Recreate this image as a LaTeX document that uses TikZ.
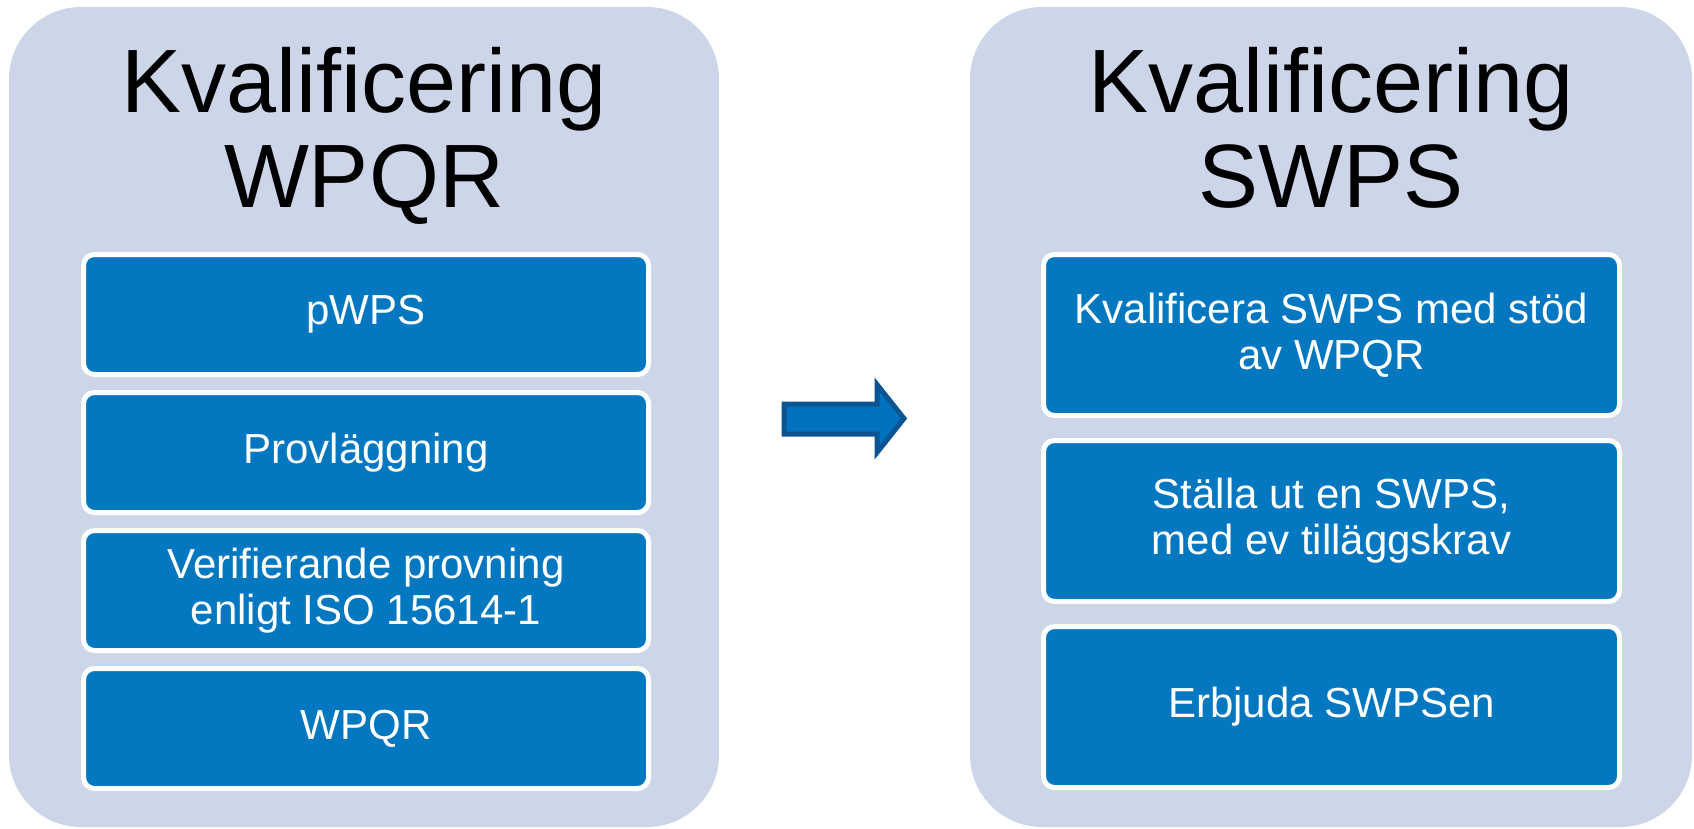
\documentclass[tikz,border=0pt]{standalone}
\usepackage{fontspec}
\setmainfont{Liberation Sans}
\definecolor{panelfill}{RGB}{204,214,232}
\definecolor{stepblue}{RGB}{3,119,192}
\definecolor{arrowfill}{RGB}{0,114,192}
\definecolor{arrowedge}{RGB}{10,84,145}
\tikzset{
  panel/.style={fill=panelfill, draw=none, rounded corners=72pt, inner sep=0pt},
  paneltitle/.style={align=center, inner sep=0pt, font=\fontsize{90}{95}\selectfont},
  stepbox/.style={fill=stepblue, draw=white, line width=5pt, rounded corners=11pt,
    text=white, align=center, inner sep=0pt,
    font=\fontsize{42}{46}\selectfont},
  blockarrow/.style={fill=arrowfill, draw=arrowedge, line width=5pt, line join=miter},
}
\begin{document}
\begin{tikzpicture}[x=1pt,y=-1pt]
\useasboundingbox (0,0) rectangle (1694,828);

% background panels
\node[panel, minimum width=710pt, minimum height=820pt] (left) at (364,417) {};
\node[panel, minimum width=722pt, minimum height=820pt] (right) at (1331,417) {};

% panel titles (anchored at the baseline of the second line)
\node[paneltitle, anchor=base] (ltitle) at (364,207) {Kvalificering\\WPQR};
\node[paneltitle, anchor=base] (rtitle) at (1331,207) {Kvalificering\\SWPS};

% steps of the WPQR qualification
\tikzset{lstep/.style={stepbox, minimum width=565pt, minimum height=120pt}}
\node[lstep] (l1) at (366,314.5) {pWPS};
\node[lstep] (l2) at (366,452.5) {Provläggning};
\node[lstep] (l3) at (366,590.5) {Verifierande provning\\enligt ISO 15614-1};
\node[lstep] (l4) at (366,728.5) {WPQR};

% steps of the SWPS qualification
\tikzset{rstep/.style={stepbox, minimum width=576pt, minimum height=161pt}}
\node[rstep] (r1) at (1331.5,335) {Kvalificera SWPS med stöd\\av WPQR};
\node[rstep] (r2) at (1331.5,521) {Ställa ut en SWPS,\\med ev tilläggskrav};
\node[rstep] (r3) at (1331.5,707) {Erbjuda SWPSen};

% block arrow between the two panels
\draw[blockarrow] (784,404) -- (877,404) -- (877,384.5) -- (904,418.5)
  -- (877,452.5) -- (877,434) -- (784,434) -- cycle;
\end{tikzpicture}
\end{document}
